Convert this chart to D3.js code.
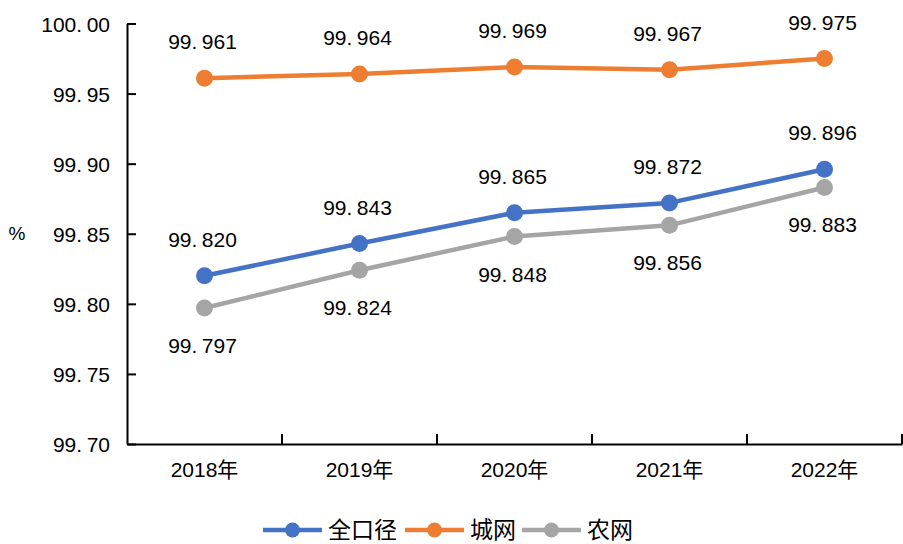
<!DOCTYPE html>
<html><head><meta charset="utf-8">
<script src="https://cdn.jsdelivr.net/npm/d3@7/dist/d3.min.js"></script>
<style>
body{margin:0;background:#fff;}
text{font-family:"Liberation Sans","Noto Sans CJK SC",sans-serif;fill:#000;}
</style></head>
<body><svg id="c" width="903" height="544"></svg>
<script>
const years = ["2018年","2019年","2020年","2021年","2022年"];
const seriesNames = ["全口径","城网","农网"];
const quankoujing = [99.820, 99.843, 99.865, 99.872, 99.896];
const chengwang = [99.961, 99.964, 99.969, 99.967, 99.975];
const nongwang = [99.797, 99.824, 99.848, 99.856, 99.883];
const yTicks = [99.70, 99.75, 99.80, 99.85, 99.90, 99.95, 100.00];
const colors = ["#4472C4", "#ED7D31", "#A5A5A5"];
const labelPos = ["above", "above", "below"];

const svg = d3.select("#c");
const x = d3.scaleBand().domain(years).range([127, 902]).paddingInner(0).paddingOuter(0);
const y = d3.scaleLinear().domain([99.70, 100.00]).range([444, 23.5]);

function setNumText(sel, str) {
  const parts = str.split(".");
  sel.text(null);
  sel.append("tspan").text(parts[0] + ".");
  sel.append("tspan").attr("dx", 4.5).text(parts[1]);
}

// Y axis
const yAxis = svg.append("g").attr("transform", "translate(127,0)")
  .call(d3.axisLeft(y).tickValues(yTicks).tickSizeInner(-9).tickSizeOuter(0).tickPadding(17).tickFormat(d3.format(".2f")));
yAxis.select(".domain").attr("stroke", "#000").attr("stroke-width", 2);
yAxis.selectAll(".tick line").attr("stroke", "#000").attr("stroke-width", 2);
yAxis.selectAll(".tick text").attr("font-size", 21).attr("font-family", "Liberation Sans, sans-serif").attr("dy", "0.36em")
  .each(function(d){ setNumText(d3.select(this), d3.format(".2f")(d)); });

// X axis
const xAxis = svg.append("g").attr("transform", "translate(0,444)")
  .call(d3.axisBottom(x).tickSize(0).tickPadding(18));
xAxis.select(".domain").attr("stroke", "#000").attr("stroke-width", 2);
xAxis.selectAll(".tick text").attr("font-size", 21).attr("font-family", "Liberation Sans, Noto Sans CJK SC, sans-serif");
const edges = years.map(d => x(d)).concat([x(years[years.length-1]) + x.bandwidth()]);
xAxis.selectAll(".edge").data(edges.slice(1)).enter().append("line")
  .attr("x1", d => d).attr("x2", d => d).attr("y1", 0).attr("y2", -10)
  .attr("stroke", "#000").attr("stroke-width", 2);

// % label
svg.append("text").attr("x", 17).attr("y", 233).attr("dy", "0.36em").attr("text-anchor", "middle")
  .attr("font-size", 19).text("%");

const data = [quankoujing, chengwang, nongwang];
const cx = d => x(d) + x.bandwidth() / 2;
const line = d3.line().x((d, i) => cx(years[i])).y(d => y(d));

data.forEach((vals, si) => {
  const g = svg.append("g");
  g.append("path").datum(vals).attr("d", line).attr("fill", "none")
    .attr("stroke", colors[si]).attr("stroke-width", 4.5).attr("stroke-linejoin", "round");
  g.selectAll("circle").data(vals).enter().append("circle")
    .attr("cx", (d, i) => cx(years[i])).attr("cy", d => y(d)).attr("r", 8.5).attr("fill", colors[si]);
  g.selectAll("text").data(vals).enter().append("text")
    .attr("x", (d, i) => cx(years[i]) - 2)
    .attr("y", d => labelPos[si] === "above" ? y(d) - 29 : y(d) + 45)
    .attr("text-anchor", "middle").attr("font-size", 21)
    .each(function(d){ setNumText(d3.select(this), d3.format(".3f")(d)); });
});

// Legend
const legendItems = [
  {name: seriesNames[0], x0: 263, color: colors[0]},
  {name: seriesNames[1], x0: 405, color: colors[1]},
  {name: seriesNames[2], x0: 522, color: colors[2]}
];
const ly = 530;
const lg = svg.append("g");
legendItems.forEach(it => {
  lg.append("line").attr("x1", it.x0).attr("x2", it.x0 + 59).attr("y1", ly).attr("y2", ly)
    .attr("stroke", it.color).attr("stroke-width", 4.5);
  lg.append("circle").attr("cx", it.x0 + 29.5).attr("cy", ly).attr("r", 7.5).attr("fill", it.color);
  lg.append("text").attr("x", it.x0 + 65).attr("y", ly).attr("dy", "0.36em")
    .attr("font-size", 23).attr("font-family", "Noto Sans CJK SC, sans-serif").text(it.name);
});
</script></body></html>
